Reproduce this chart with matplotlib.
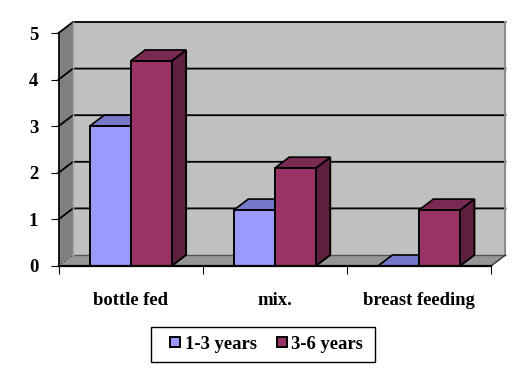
import matplotlib
matplotlib.use('Agg')
import matplotlib.pyplot as plt
from matplotlib.lines import Line2D
from matplotlib.patches import Rectangle

categories = ['bottle fed', 'mix.', 'breast feeding']
young = [3, 1.2, 0]
older = [4.4, 2.1, 1.2]
y_ticks = [0, 1, 2, 3, 4, 5]

plt.rcParams['font.family'] = ['Liberation Serif', 'DejaVu Serif']
plt.rcParams['font.weight'] = 'bold'

W, H = 524, 373
fig = plt.figure(figsize=(W / 100, H / 100), dpi=100)
ax = fig.add_axes([58.5 / W, 1 - 266 / H, 432.5 / W, 233 / H])
ax.set_xlim(0, 3)
ax.set_ylim(0, 5)

# depth of the fake 3d box, in data units
dx = 14.5 / 432.5 * 3
dy = 11 / 233 * 5
bw = 41 / 144.2

# walls and floor
ax.fill([0, dx, dx, 0], [0, dy, 5 + dy, 5], color='#808080', lw=0, clip_on=False, zorder=1)
ax.fill([dx, 3 + dx, 3 + dx, dx], [dy, dy, 5 + dy, 5 + dy], color='#C0C0C0', lw=0, clip_on=False, zorder=1)
ax.fill([0, 3, 3 + dx, dx], [0, 0, dy, dy], color='#969696', lw=0, clip_on=False, zorder=2)

# grid lines run along the back wall and slant down the left wall
for v in y_ticks[1:]:
    ax.plot([0, dx, 3 + dx], [v, v + dy, v + dy], color='black', lw=1.3, clip_on=False, zorder=3)
ax.plot([dx, 3 + dx], [dy, dy], color='#555555', lw=1, clip_on=False, zorder=3)
ax.plot([dx, dx], [dy, 5 + dy], color='#A6A6A6', lw=1, clip_on=False, zorder=3)
ax.plot([3 + dx, 3 + dx], [dy, 5 + dy], color='#8C8C8C', lw=1.5, clip_on=False, zorder=3)
ax.plot([0, dx], [0, dy], color='#444444', lw=1, ls=':', clip_on=False, zorder=3)
ax.plot([3, 3 + dx], [0, dy], color='#333333', lw=1, clip_on=False, zorder=3)


def draw_bar(x0, v, front, top, side, z):
    x1 = x0 + bw
    ax.fill([x1, x1 + dx, x1 + dx, x1], [0, dy, v + dy, v], facecolor=side, edgecolor='black', lw=1.4, clip_on=False, zorder=z)
    ax.fill([x0, x1, x1 + dx, x0 + dx], [v, v, v + dy, v + dy], facecolor=top, edgecolor='black', lw=1.2, clip_on=False, zorder=z)
    ax.bar(x0, v, width=bw, align='edge', facecolor=front, edgecolor='black', lw=1.4, zorder=z + 0.1, clip_on=False)


for i in range(len(categories)):
    draw_bar(i + 0.5 - bw, young[i], '#9999FF', '#7878C8', '#5F5FA0', 4)
    draw_bar(i + 0.5, older[i], '#993366', '#7A2952', '#5F2040', 5)

ax.set_xticks([0, 1, 2, 3])
ax.set_xticklabels([])
ax.set_xticks([0.5, 1.5, 2.5], categories, minor=True)
ax.tick_params(axis='x', which='major', length=5.5, width=0.8, direction='out')
ax.tick_params(axis='x', which='minor', length=0, pad=18.5, labelsize=13.4)
ax.set_yticks(y_ticks)
ax.tick_params(axis='y', length=5.5, width=0.8, pad=9, labelsize=13.5)
for s in ['top', 'right']:
    ax.spines[s].set_visible(False)
ax.spines['left'].set_linewidth(1.2)
ax.spines['bottom'].set_linewidth(1.6)
ax.spines['bottom'].set_zorder(6)
ax.set_axisbelow(False)

# legend box is drawn on its own so it can sit exactly where the original one is
fig.add_artist(Rectangle((151 / W, 1 - 362 / H), 224 / W, 35 / H, transform=fig.transFigure,
                         facecolor='white', edgecolor='black', lw=1))
handles = [Line2D([], [], ls='none', marker='s', ms=7.5, mfc='#9999FF', mec='black', mew=1.4, label='1-3 years'),
           Line2D([], [], ls='none', marker='s', ms=7.5, mfc='#993366', mec='black', mew=1.4, label='3-6 years')]
leg = fig.legend(handles=handles, ncol=2, loc='center left', bbox_to_anchor=(160 / W, 1 - 344.5 / H),
                 fontsize=13.4, frameon=False, handlelength=1.6, handletextpad=-0.27,
                 columnspacing=0.53, borderpad=0, borderaxespad=0)

fig.savefig('out.png', dpi=100)
